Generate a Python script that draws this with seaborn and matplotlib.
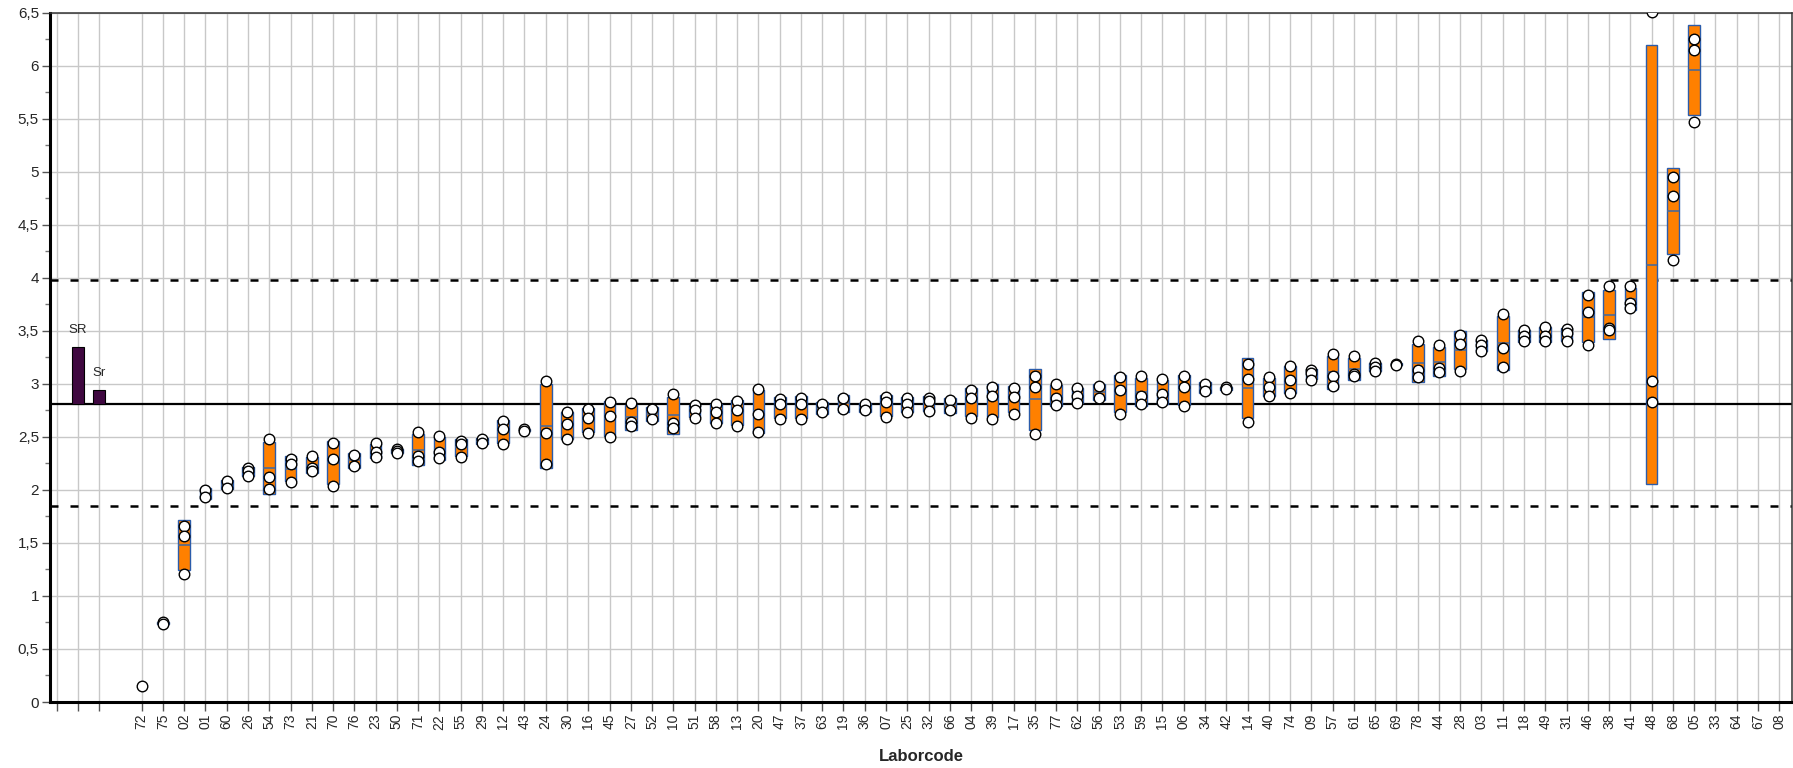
import numpy as np
import pandas as pd
import matplotlib
matplotlib.use("Agg")
import matplotlib.pyplot as plt
from matplotlib.ticker import MultipleLocator, FuncFormatter
import seaborn as sns

# Laboratory codes in plotting order
lab_codes = ["72", "75", "02", "01", "60", "26", "54", "73", "21", "70",
             "76", "23", "50", "71", "22", "55", "29", "12", "43", "24",
             "30", "16", "45", "27", "52", "10", "51", "58", "13", "20",
             "47", "37", "63", "19", "36", "07", "25", "32", "66", "04",
             "39", "17", "35", "77", "62", "56", "53", "59", "15", "06",
             "34", "42", "14", "40", "74", "09", "57", "61", "65", "69",
             "78", "44", "28", "03", "11", "18", "49", "31", "46", "38",
             "41", "48", "68", "05", "33", "64", "67", "08"]

nan = np.nan
# Replicate results per laboratory (NaN = not reported)
rep_a = [0.15, 0.75, 1.66, 2.00, 2.08, 2.21, 2.48, 2.29, 2.32, 2.44,
         2.33, 2.44, 2.39, 2.55, 2.51, 2.46, 2.48, 2.65, 2.57, 3.03,
         2.73, 2.76, 2.83, 2.82, 2.76, 2.90, 2.80, 2.81, 2.84, 2.95,
         2.86, 2.87, 2.81, 2.87, 2.81, 2.88, 2.87, 2.87, 2.85, 2.94,
         2.97, 2.96, 3.07, 3.00, 2.96, 2.98, 3.06, 3.07, 3.05, 3.07,
         3.00, 2.97, 3.19, 3.06, 3.17, 3.13, 3.28, 3.26, 3.20, 3.19,
         3.40, 3.37, 3.46, 3.41, 3.66, 3.51, 3.54, 3.52, 3.84, 3.92,
         3.92, 6.51, 4.95, 6.25, nan, nan, nan, nan]
rep_b = [nan, 0.74, 1.57, 1.93, 2.02, 2.18, 2.12, 2.24, 2.21, 2.29,
         2.23, 2.36, 2.37, 2.32, 2.36, 2.43, 2.44, 2.57, 2.56, 2.54,
         2.62, 2.68, 2.70, 2.64, 2.67, 2.63, 2.75, 2.73, 2.75, 2.72,
         2.81, 2.81, 2.73, 2.76, 2.75, 2.83, 2.81, 2.84, 2.75, 2.87,
         2.89, 2.88, 2.97, 2.87, 2.89, 2.87, 2.94, 2.89, 2.90, 2.97,
         2.93, 2.95, 3.05, 2.97, 3.04, 3.10, 3.07, 3.09, 3.16, 3.18,
         3.13, 3.15, 3.38, 3.37, 3.34, 3.45, 3.45, 3.48, 3.68, 3.53,
         3.76, 3.03, 4.77, 6.15, nan, nan, nan, nan]
rep_c = [nan, nan, 1.21, nan, nan, 2.13, 2.01, 2.07, 2.18, 2.04,
         nan, 2.31, 2.35, 2.27, 2.30, 2.31, nan, 2.43, nan, 2.24,
         2.48, 2.54, 2.50, 2.60, nan, 2.58, 2.68, 2.63, 2.60, 2.55,
         2.67, 2.67, nan, nan, nan, 2.69, 2.73, 2.74, nan, 2.68,
         2.67, 2.72, 2.53, 2.80, 2.82, nan, 2.72, 2.81, 2.83, 2.79,
         nan, nan, 2.64, 2.89, 2.91, 3.04, 2.98, 3.07, 3.12, nan,
         3.06, 3.11, 3.12, 3.31, 3.16, 3.40, 3.40, 3.40, 3.37, 3.51,
         3.72, 2.83, 4.17, 5.47, nan, nan, nan, nan]

# Assigned value and tolerance limits
assigned_value = 2.81
upper_limit = 3.98
lower_limit = 1.85

# Reproducibility / repeatability bars drawn from the assigned value
precision_labels = ["SR", "Sr"]
precision_tops = [3.345, 2.94]

LEAD = 4  # empty slots before the first laboratory
slot_of = {code: LEAD + i for i, code in enumerate(lab_codes)}

df = pd.DataFrame({
    "lab": lab_codes * 3,
    "value": rep_a + rep_b + rep_c,
}).dropna()
df["slot"] = df["lab"].map(slot_of)

stats = df.groupby("lab")["value"].agg(["mean", "std", "count"])
stats = stats[stats["count"] > 1]
stats["slot"] = stats.index.map(slot_of)

sns.set_style("white")
plt.rcParams["font.family"] = ["Liberation Sans", "DejaVu Sans"]

W, H = 1793, 768
fig = plt.figure(figsize=(W / 100, H / 100), dpi=100)
ax = fig.add_axes([50 / W, 66 / H, 1742 / W, 689.3 / H])

box_w = 0.55

# reference lines
ax.axhline(assigned_value, color="black", lw=1.6, zorder=1.5)
for lim in (upper_limit, lower_limit):
    ax.axhline(lim, color="black", lw=1.8, ls=(0, (3.2, 4.8)), zorder=1.5)

# precision bars
prec_slots = [1, 2]
ax.bar(prec_slots, np.array(precision_tops) - assigned_value,
       bottom=assigned_value, width=box_w, color="#3f0840",
       edgecolor="black", lw=0.8, zorder=2)
for s, top, lab in zip(prec_slots, precision_tops, precision_labels):
    ax.annotate(lab, (s, top), xytext=(0, 10.5), textcoords="offset points",
                ha="center", va="baseline", fontsize=9.5)

# mean ± s boxes
ax.bar(stats["slot"], 2 * stats["std"], bottom=stats["mean"] - stats["std"],
       width=box_w, color="#ff8000", edgecolor="#2b5cab", lw=1.0, zorder=3)
ax.hlines(stats["mean"], stats["slot"] - box_w / 2, stats["slot"] + box_w / 2,
          color="#4d6a96", lw=1.2, zorder=4)

# individual results
sns.stripplot(data=df, x="slot", y="value", native_scale=True, jitter=False,
              color="white", edgecolor="black", linewidth=1.0, size=7.6,
              zorder=5, ax=ax, legend=False)

# axes
ax.set_xlim(-0.31, 81.6)
ax.set_ylim(0, 6.5)
tick_slots = [0, 1, 2] + [slot_of[c] for c in lab_codes]
tick_labels = ["", "", ""] + lab_codes
ax.set_xticks(tick_slots)
ax.set_xticklabels(tick_labels, rotation=90, fontsize=10)
ax.yaxis.set_major_locator(MultipleLocator(0.5))
ax.yaxis.set_minor_locator(MultipleLocator(0.25))
ax.yaxis.set_major_formatter(FuncFormatter(lambda v, p: f"{v:g}".replace(".", ",")))
ax.tick_params(axis="y", which="major", labelsize=11, length=6, width=1,
               color="#555555", direction="out", left=True, pad=2)
ax.tick_params(axis="y", which="minor", length=3.5, width=1,
               color="#777777", direction="out", left=True)
ax.tick_params(axis="x", which="major", length=6.5, width=1,
               color="#555555", direction="out", bottom=True, pad=2)

ax.set_axisbelow(True)
ax.grid(True, which="major", axis="both", color="#c8c8c8", lw=1.0, zorder=0)

ax.set_xlabel("Laborcode", fontsize=12, fontweight="bold", labelpad=14)
ax.set_ylabel("")

for side in ("left", "bottom"):
    ax.spines[side].set_linewidth(2.2)
    ax.spines[side].set_color("black")
for side in ("top", "right"):
    ax.spines[side].set_linewidth(1.1)
    ax.spines[side].set_color("#333333")
    ax.spines[side].set_visible(True)

fig.savefig("out.png", dpi=100)
